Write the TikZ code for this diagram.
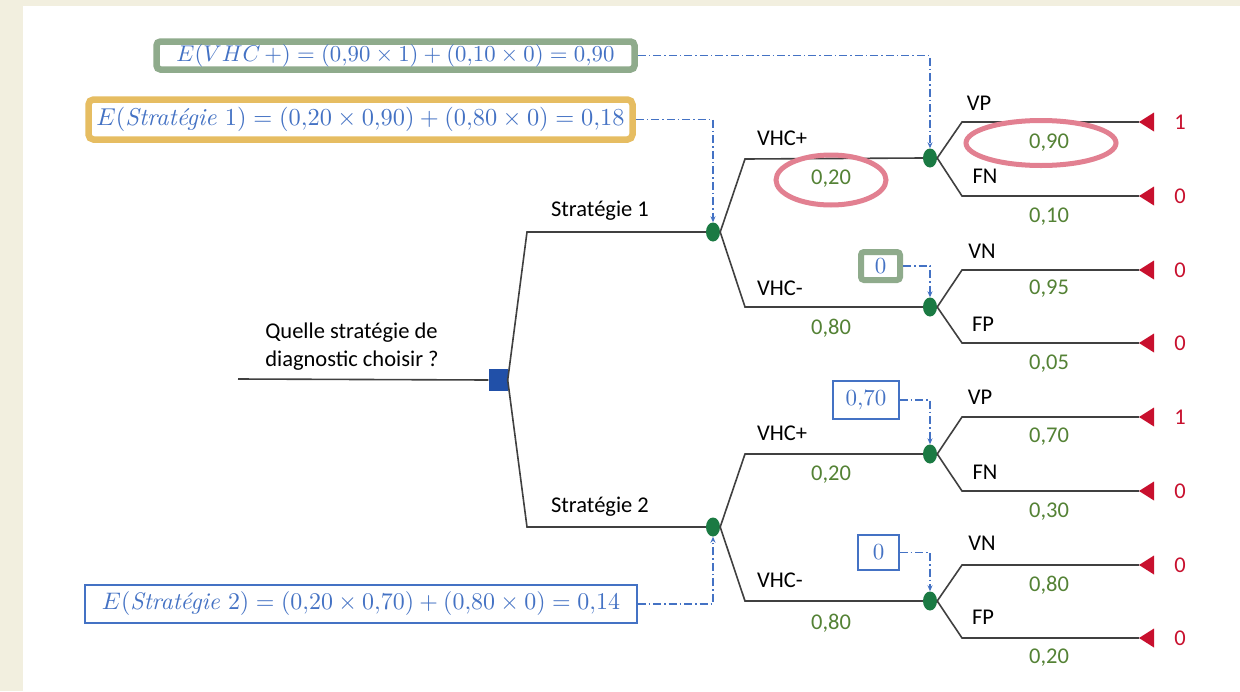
\documentclass[tikz,border=0pt]{standalone}
\usepackage[no-math]{fontspec}
\newfontfamily\lbl{Carlito}
\usetikzlibrary{shapes.geometric,arrows.meta}
\definecolor{beige}{HTML}{F2EFDF}
\definecolor{treegray}{HTML}{404040}
\definecolor{cblue}{HTML}{4472C4}
\definecolor{pgreen}{HTML}{548235}
\definecolor{pred}{HTML}{C8102E}
\definecolor{ngreen}{HTML}{1B7A43}
\definecolor{sqblue}{HTML}{2150A8}
\definecolor{hlpink}{HTML}{E28091}
\definecolor{boxgreen}{HTML}{8FAB8C}
\definecolor{boxgold}{HTML}{E6BD62}
\begin{document}
\begin{tikzpicture}[x=1pt,y=-1pt,
  tree/.style={draw=treegray, line width=1.6pt},
  conn/.style={draw=cblue, line width=1.1pt, dash pattern=on 8pt off 3pt on 1.5pt off 3pt, -{Stealth[length=6pt,width=5pt]}},
  chance/.style={ellipse, fill=ngreen, minimum width=14pt, minimum height=19pt, inner sep=0pt},
  lab/.style={font=\lbl\fontsize{22.5}{28}\selectfont, text=black, inner sep=0pt},
  prob/.style={lab, text=pgreen},
  pay/.style={lab, text=pred},
  mbox/.style={draw=cblue, line width=1.1pt, fill=white, inner sep=0pt, text=cblue, font=\fontsize{10}{12}\selectfont},
  hl/.style={ellipse, draw=hlpink, line width=5pt, inner sep=0pt},
  leaftri/.style={fill=pred}
]
\fill[beige] (0,0) rectangle (1240,691);
\fill[white] (23,6) rectangle (1240,691);

% decision node and root
\node[rectangle, fill=sqblue, minimum width=19pt, minimum height=22pt, inner sep=0pt] (dec) at (498,380) {};
\coordinate (root) at (238,379);
\draw[tree] (root) -- (dec.west);
\node[lab, align=left] (q) at (352,347) {Quelle stratégie de\\diagnostic choisir ?};

% chance nodes
\node[chance] (s1) at (713,232) {};
\node[chance] (s2) at (713,527) {};
\node[chance] (a1) at (930,158) {};
\node[chance] (a2) at (930,307) {};
\node[chance] (b1) at (930,454) {};
\node[chance] (b2) at (930,601) {};

% leaf tips
\foreach \n/\yy in {l1/122,l2/196,l3/270,l4/343,l5/417,l6/491,l7/565,l8/638}{
  \coordinate (\n) at (1139,\yy);
  \fill[leaftri] (\n) -- ++(15,-9.5) -- ++(0,19) -- cycle;
}

% tree branches
\draw[tree] (dec.east) -- (527,232) -- (s1.west);
\draw[tree] (dec.east) -- (527,527) -- (s2.west);
\draw[tree] (s1.east) -- (745,159) -- (a1.west);
\draw[tree] (s1.east) -- (745,307) -- (a2.west);
\draw[tree] (s2.east) -- (745,454) -- (b1.west);
\draw[tree] (s2.east) -- (745,601) -- (b2.west);
\draw[tree] (a1.east) -- (962,122) -- (l1);
\draw[tree] (a1.east) -- (962,196) -- (l2);
\draw[tree] (a2.east) -- (962,270) -- (l3);
\draw[tree] (a2.east) -- (962,343) -- (l4);
\draw[tree] (b1.east) -- (962,417) -- (l5);
\draw[tree] (b1.east) -- (962,491) -- (l6);
\draw[tree] (b2.east) -- (962,565) -- (l7);
\draw[tree] (b2.east) -- (962,638) -- (l8);

% branch labels
\node[lab] (st1) at (600,211) {Stratégie 1};
\node[lab] (st2) at (600,507) {Stratégie 2};
\node[lab] (v1) at (782,138) {VHC+};
\node[lab] (v2) at (780,288) {VHC-};
\node[lab] (v3) at (782,433) {VHC+};
\node[lab] (v4) at (780,580) {VHC-};
\node[lab] (o1) at (979,103) {VP};
\node[lab] (o2) at (985,176) {FN};
\node[lab] (o3) at (982,251) {VN};
\node[lab] (o4) at (983,324) {FP};
\node[lab] (o5) at (980,397) {VP};
\node[lab] (o6) at (985,472) {FN};
\node[lab] (o7) at (982,543) {VN};
\node[lab] (o8) at (983,617) {FP};

% probabilities
\node[prob] (p1) at (831,179) {0,20};
\node[prob] (p2) at (831,328) {0,80};
\node[prob] (p3) at (831,475) {0,20};
\node[prob] (p4) at (831,623) {0,80};
\node[prob] (q1) at (1049,143) {0,90};
\node[prob] (q2) at (1049,217) {0,10};
\node[prob] (q3) at (1049,289) {0,95};
\node[prob] (q4) at (1049,364) {0,05};
\node[prob] (q5) at (1049,437) {0,70};
\node[prob] (q6) at (1049,512) {0,30};
\node[prob] (q7) at (1049,585) {0,80};
\node[prob] (q8) at (1049,658) {0,20};

% payoffs
\node[pay] (r1) at (1180,122) {1};
\node[pay] (r2) at (1180,196) {0};
\node[pay] (r3) at (1180,270) {0};
\node[pay] (r4) at (1180,343) {0};
\node[pay] (r5) at (1180,417) {1};
\node[pay] (r6) at (1180,491) {0};
\node[pay] (r7) at (1180,565) {0};
\node[pay] (r8) at (1180,638) {0};

% highlight ellipses
\node[hl, minimum width=110pt, minimum height=50pt] (h1) at (831,180) {};
\node[hl, minimum width=150pt, minimum height=45pt] (h2) at (1041,143) {};

% calculation boxes
\node[mbox, draw=boxgreen, line width=6.5pt, rounded corners=4pt, minimum width=478pt, minimum height=28pt] (ev) at (395.5,55.5)
  {\resizebox{438pt}{!}{$E(VHC\,+)=(0{,}90\times 1)+(0{,}10\times 0)=0{,}90$}};
\node[mbox, draw=boxgold, line width=6.5pt, rounded corners=5pt, minimum width=544pt, minimum height=40pt] (es1) at (360.5,119.5)
  {\resizebox{528pt}{!}{$E($\textit{Stratégie}$\ 1)=(0{,}20\times 0{,}90)+(0{,}80\times 0)=0{,}18$}};
\node[mbox, minimum width=552pt, minimum height=38pt] (es2) at (361,604)
  {\resizebox{518pt}{!}{$E($\textit{Stratégie}$\ 2)=(0{,}20\times 0{,}70)+(0{,}80\times 0)=0{,}14$}};
\node[mbox, draw=boxgreen, line width=6pt, rounded corners=3pt, minimum width=39pt, minimum height=28pt] (z1) at (880.5,266) {\scalebox{2.3}{0}};
\node[mbox, minimum width=66pt, minimum height=38pt] (z2) at (866,400) {\scalebox{2.3}{0,70}};
\node[mbox, minimum width=41pt, minimum height=35pt] (z3) at (878.5,552.5) {\scalebox{2.3}{0}};

% dash-dot connectors
\draw[conn] (ev.east) -| (a1.north);
\draw[conn] (es1.east) -| (s1.north);
\draw[conn] (es2.east) -| (s2.south);
\draw[conn] (z1.east) -| (a2.north);
\draw[conn] (z2.east) -| (b1.north);
\draw[conn] (z3.east) -| (b2.north);
\end{tikzpicture}
\end{document}
